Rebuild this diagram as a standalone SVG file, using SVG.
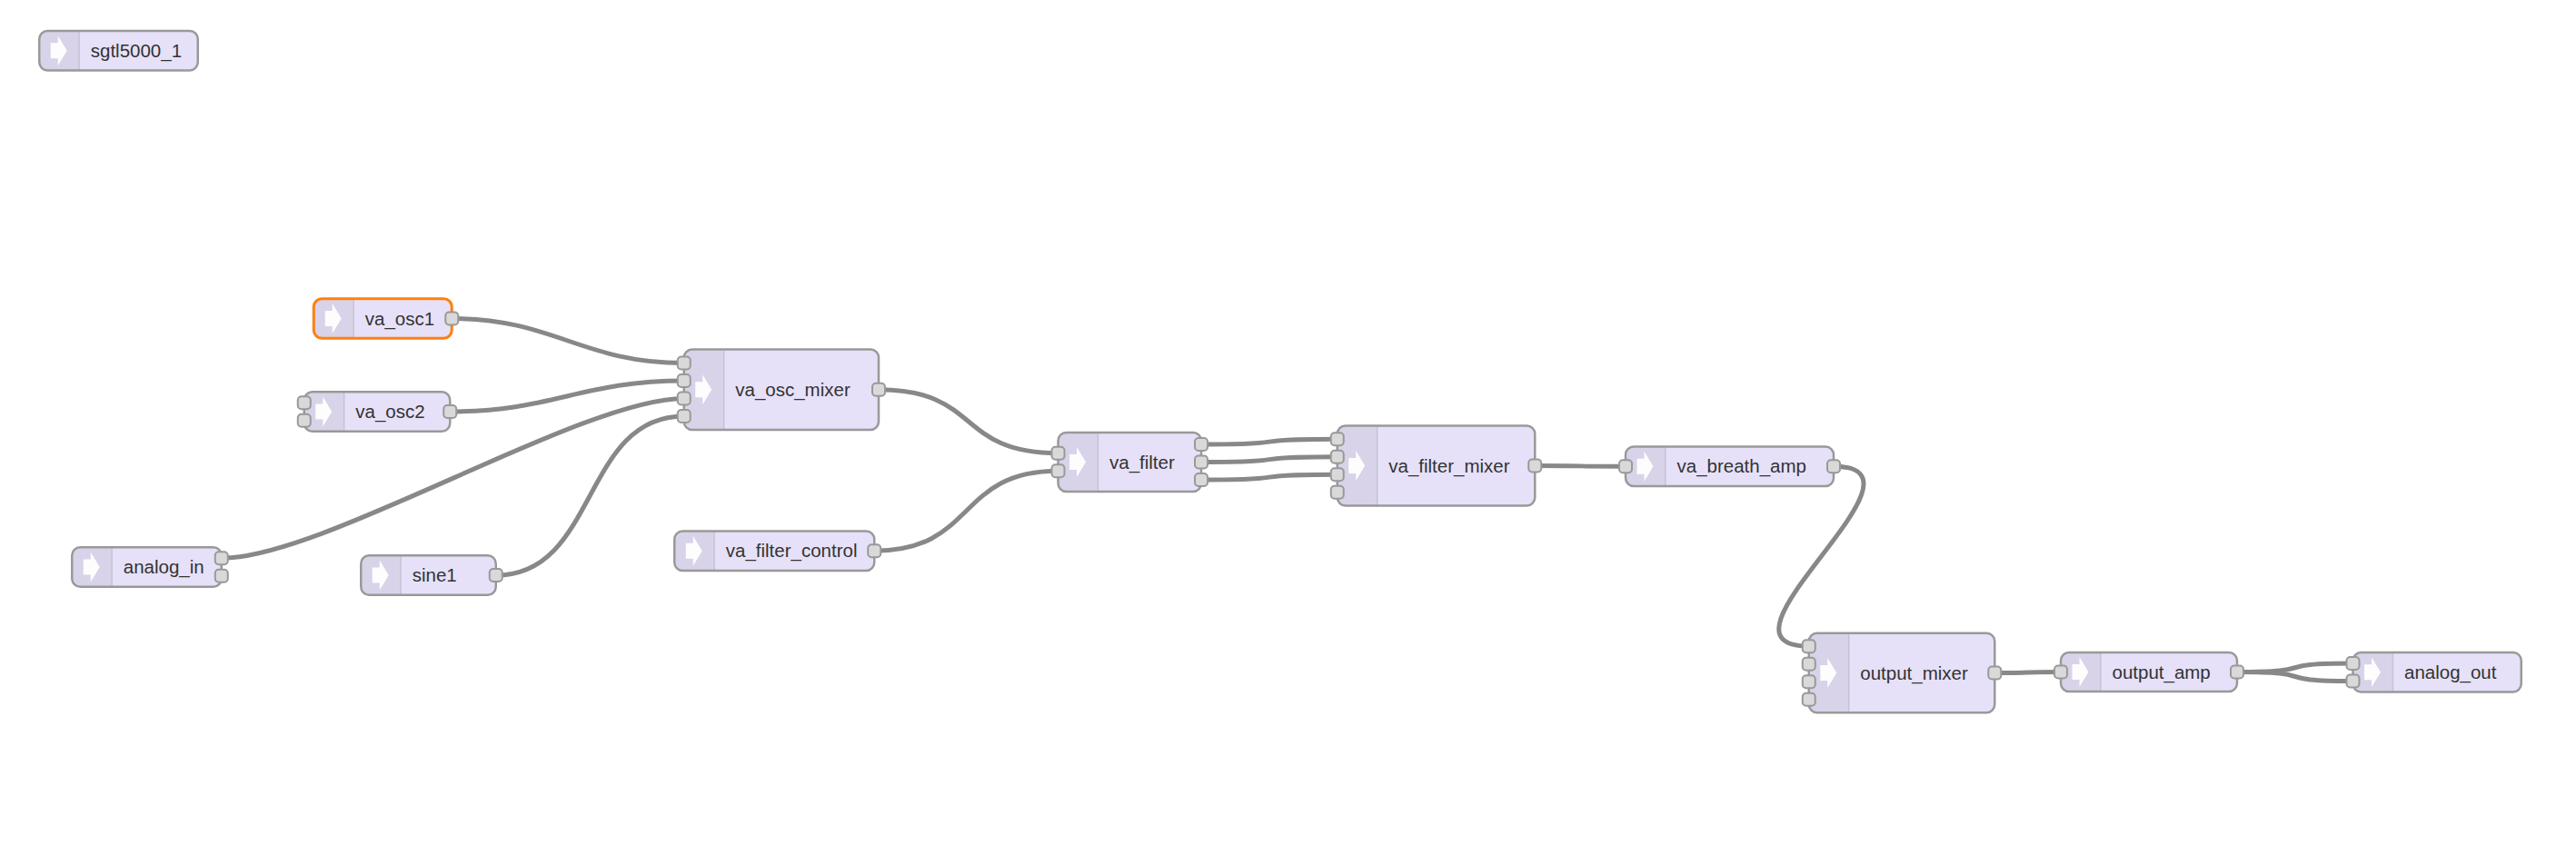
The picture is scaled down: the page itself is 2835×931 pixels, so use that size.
<svg xmlns="http://www.w3.org/2000/svg" xmlns:xlink="http://www.w3.org/1999/xlink" width="2835" height="931" viewBox="0 0 2835 931">
<style>
.bg{fill:#ffffff}
.l{fill:none;stroke:#888888;stroke-width:5}
.n{fill:#e6e1f8}
.b{fill:none;stroke:#999999;stroke-width:2.5}
.sel{stroke:#ff7f0e;stroke-width:3}
.sh{fill:#000000;fill-opacity:0.06}
.dv{stroke:#000000;stroke-opacity:0.1;stroke-width:1.5}
.ic{fill:#ffffff;fill-opacity:0.95}
.t{font-family:"Liberation Sans",Arial,Helvetica,sans-serif;font-size:20.5px;fill:#333333}
.p{fill:#d9d9d9;stroke:#999999;stroke-width:2}
</style>
<defs>
<polygon id="arrow" points="12.5,-8.5 20.5,-8.5 20.5,-16.5 30.5,0 20.5,16.5 20.5,8.5 12.5,8.5"/>
<rect id="port" x="-7" y="-7" width="14" height="14" rx="4" ry="4"/>
</defs>
<rect class="bg" x="0" y="0" width="2835" height="931"/>

<g id="connectors">
<path class="l" d="M497.25,350.5 C609.75,350.5 640.25,399.5 752.75,399.5"/>
<path class="l" d="M495.25,453 C607.75,453 640.25,419 752.75,419"/>
<path class="l" d="M243.75,614.25 C356.25,614.25 640.25,438.5 752.75,438.5"/>
<path class="l" d="M545.75,633 C658.25,633 640.25,458 752.75,458"/>
<path class="l" d="M967,428.75 C1079.5,428.75 1052,498.75 1164.5,498.75"/>
<path class="l" d="M962.25,606.25 C1074.75,606.25 1052,518.25 1164.5,518.25"/>
<path class="l" d="M1322,489 C1434,489 1359.75,483.25 1471.75,483.25"/>
<path class="l" d="M1322,508.5 C1434,508.5 1359.75,502.75 1471.75,502.75"/>
<path class="l" d="M1322,528 C1434,528 1359.75,522.25 1471.75,522.25"/>
<path class="l" d="M1689.25,512.5 C1764,512.5 1714.25,513.25 1789,513.25"/>
<path class="l" d="M2018,513.25 C2142.3,513.25 1866.45,711.25 1990.75,711.25"/>
<path class="l" d="M2195.25,740.5 C2249.85,740.5 2213.4,739.5 2268,739.5"/>
<path class="l" d="M2462,739.5 C2557.9,739.5 2493.6,730 2589.5,730"/>
<path class="l" d="M2462,739.5 C2557.9,739.5 2493.6,749.5 2589.5,749.5"/>
</g>

<g id="sgtl5000_1" transform="translate(43.25,34)">
<rect class="n" width="174.5" height="43.5" rx="9"/>
<path class="sh" d="M9,0 H44 V43.5 H9 A9,9 0 0 1 0,34.5 V9 A9,9 0 0 1 9,0 Z"/>
<line class="dv" x1="44" y1="0" x2="44" y2="43.5"/>
<use class="ic" xlink:href="#arrow" href="#arrow" transform="translate(0,21.75)"/>
<rect class="b" width="174.5" height="43.5" rx="9"/>
<text class="t" x="56.5" y="28.75">sgtl5000_1</text>
</g>

<g id="va_osc1" transform="translate(345.25,328.75)">
<rect class="n" width="152" height="43.5" rx="9"/>
<path class="sh" d="M9,0 H44 V43.5 H9 A9,9 0 0 1 0,34.5 V9 A9,9 0 0 1 9,0 Z"/>
<line class="dv" x1="44" y1="0" x2="44" y2="43.5"/>
<use class="ic" xlink:href="#arrow" href="#arrow" transform="translate(0,21.75)"/>
<rect class="b sel" width="152" height="43.5" rx="9"/>
<text class="t" x="56.5" y="28.75">va_osc1</text>
<use class="p" xlink:href="#port" href="#port" x="152" y="21.75"/>
</g>

<g id="va_osc2" transform="translate(334.75,431.25)">
<rect class="n" width="160.5" height="43.5" rx="9"/>
<path class="sh" d="M9,0 H44 V43.5 H9 A9,9 0 0 1 0,34.5 V9 A9,9 0 0 1 9,0 Z"/>
<line class="dv" x1="44" y1="0" x2="44" y2="43.5"/>
<use class="ic" xlink:href="#arrow" href="#arrow" transform="translate(0,21.75)"/>
<rect class="b" width="160.5" height="43.5" rx="9"/>
<text class="t" x="56.5" y="28.75">va_osc2</text>
<use class="p" xlink:href="#port" href="#port" x="0" y="12"/>
<use class="p" xlink:href="#port" href="#port" x="0" y="31.5"/>
<use class="p" xlink:href="#port" href="#port" x="160.5" y="21.75"/>
</g>

<g id="analog_in" transform="translate(79.25,602.25)">
<rect class="n" width="164.5" height="43.5" rx="9"/>
<path class="sh" d="M9,0 H44 V43.5 H9 A9,9 0 0 1 0,34.5 V9 A9,9 0 0 1 9,0 Z"/>
<line class="dv" x1="44" y1="0" x2="44" y2="43.5"/>
<use class="ic" xlink:href="#arrow" href="#arrow" transform="translate(0,21.75)"/>
<rect class="b" width="164.5" height="43.5" rx="9"/>
<text class="t" x="56.5" y="28.75">analog_in</text>
<use class="p" xlink:href="#port" href="#port" x="164.5" y="12"/>
<use class="p" xlink:href="#port" href="#port" x="164.5" y="31.5"/>
</g>

<g id="sine1" transform="translate(397.25,611.25)">
<rect class="n" width="148.5" height="43.5" rx="9"/>
<path class="sh" d="M9,0 H44 V43.5 H9 A9,9 0 0 1 0,34.5 V9 A9,9 0 0 1 9,0 Z"/>
<line class="dv" x1="44" y1="0" x2="44" y2="43.5"/>
<use class="ic" xlink:href="#arrow" href="#arrow" transform="translate(0,21.75)"/>
<rect class="b" width="148.5" height="43.5" rx="9"/>
<text class="t" x="56.5" y="28.75">sine1</text>
<use class="p" xlink:href="#port" href="#port" x="148.5" y="21.75"/>
</g>

<g id="va_osc_mixer" transform="translate(752.75,384.5)">
<rect class="n" width="214.25" height="88.5" rx="9"/>
<path class="sh" d="M9,0 H44 V88.5 H9 A9,9 0 0 1 0,79.5 V9 A9,9 0 0 1 9,0 Z"/>
<line class="dv" x1="44" y1="0" x2="44" y2="88.5"/>
<use class="ic" xlink:href="#arrow" href="#arrow" transform="translate(0,44.25)"/>
<rect class="b" width="214.25" height="88.5" rx="9"/>
<text class="t" x="56.5" y="51.25">va_osc_mixer</text>
<use class="p" xlink:href="#port" href="#port" x="0" y="15"/>
<use class="p" xlink:href="#port" href="#port" x="0" y="34.5"/>
<use class="p" xlink:href="#port" href="#port" x="0" y="54"/>
<use class="p" xlink:href="#port" href="#port" x="0" y="73.5"/>
<use class="p" xlink:href="#port" href="#port" x="214.25" y="44.25"/>
</g>

<g id="va_filter_control" transform="translate(742.25,584.5)">
<rect class="n" width="220" height="43.5" rx="9"/>
<path class="sh" d="M9,0 H44 V43.5 H9 A9,9 0 0 1 0,34.5 V9 A9,9 0 0 1 9,0 Z"/>
<line class="dv" x1="44" y1="0" x2="44" y2="43.5"/>
<use class="ic" xlink:href="#arrow" href="#arrow" transform="translate(0,21.75)"/>
<rect class="b" width="220" height="43.5" rx="9"/>
<text class="t" x="56.5" y="28.75">va_filter_control</text>
<use class="p" xlink:href="#port" href="#port" x="220" y="21.75"/>
</g>

<g id="va_filter" transform="translate(1164.5,476)">
<rect class="n" width="157.5" height="65" rx="9"/>
<path class="sh" d="M9,0 H44 V65 H9 A9,9 0 0 1 0,56 V9 A9,9 0 0 1 9,0 Z"/>
<line class="dv" x1="44" y1="0" x2="44" y2="65"/>
<use class="ic" xlink:href="#arrow" href="#arrow" transform="translate(0,32.5)"/>
<rect class="b" width="157.5" height="65" rx="9"/>
<text class="t" x="56.5" y="39.5">va_filter</text>
<use class="p" xlink:href="#port" href="#port" x="0" y="22.75"/>
<use class="p" xlink:href="#port" href="#port" x="0" y="42.25"/>
<use class="p" xlink:href="#port" href="#port" x="157.5" y="13"/>
<use class="p" xlink:href="#port" href="#port" x="157.5" y="32.5"/>
<use class="p" xlink:href="#port" href="#port" x="157.5" y="52"/>
</g>

<g id="va_filter_mixer" transform="translate(1471.75,468.5)">
<rect class="n" width="217.5" height="88" rx="9"/>
<path class="sh" d="M9,0 H44 V88 H9 A9,9 0 0 1 0,79 V9 A9,9 0 0 1 9,0 Z"/>
<line class="dv" x1="44" y1="0" x2="44" y2="88"/>
<use class="ic" xlink:href="#arrow" href="#arrow" transform="translate(0,44)"/>
<rect class="b" width="217.5" height="88" rx="9"/>
<text class="t" x="56.5" y="51">va_filter_mixer</text>
<use class="p" xlink:href="#port" href="#port" x="0" y="14.75"/>
<use class="p" xlink:href="#port" href="#port" x="0" y="34.25"/>
<use class="p" xlink:href="#port" href="#port" x="0" y="53.75"/>
<use class="p" xlink:href="#port" href="#port" x="0" y="73.25"/>
<use class="p" xlink:href="#port" href="#port" x="217.5" y="44"/>
</g>

<g id="va_breath_amp" transform="translate(1789,491.5)">
<rect class="n" width="229" height="43.5" rx="9"/>
<path class="sh" d="M9,0 H44 V43.5 H9 A9,9 0 0 1 0,34.5 V9 A9,9 0 0 1 9,0 Z"/>
<line class="dv" x1="44" y1="0" x2="44" y2="43.5"/>
<use class="ic" xlink:href="#arrow" href="#arrow" transform="translate(0,21.75)"/>
<rect class="b" width="229" height="43.5" rx="9"/>
<text class="t" x="56.5" y="28.75">va_breath_amp</text>
<use class="p" xlink:href="#port" href="#port" x="0" y="21.75"/>
<use class="p" xlink:href="#port" href="#port" x="229" y="21.75"/>
</g>

<g id="output_mixer" transform="translate(1990.75,696.75)">
<rect class="n" width="204.5" height="87.5" rx="9"/>
<path class="sh" d="M9,0 H44 V87.5 H9 A9,9 0 0 1 0,78.5 V9 A9,9 0 0 1 9,0 Z"/>
<line class="dv" x1="44" y1="0" x2="44" y2="87.5"/>
<use class="ic" xlink:href="#arrow" href="#arrow" transform="translate(0,43.75)"/>
<rect class="b" width="204.5" height="87.5" rx="9"/>
<text class="t" x="56.5" y="50.75">output_mixer</text>
<use class="p" xlink:href="#port" href="#port" x="0" y="14.5"/>
<use class="p" xlink:href="#port" href="#port" x="0" y="34"/>
<use class="p" xlink:href="#port" href="#port" x="0" y="53.5"/>
<use class="p" xlink:href="#port" href="#port" x="0" y="73"/>
<use class="p" xlink:href="#port" href="#port" x="204.5" y="43.75"/>
</g>

<g id="output_amp" transform="translate(2268,718)">
<rect class="n" width="194" height="43" rx="9"/>
<path class="sh" d="M9,0 H44 V43 H9 A9,9 0 0 1 0,34 V9 A9,9 0 0 1 9,0 Z"/>
<line class="dv" x1="44" y1="0" x2="44" y2="43"/>
<use class="ic" xlink:href="#arrow" href="#arrow" transform="translate(0,21.5)"/>
<rect class="b" width="194" height="43" rx="9"/>
<text class="t" x="56.5" y="28.5">output_amp</text>
<use class="p" xlink:href="#port" href="#port" x="0" y="21.5"/>
<use class="p" xlink:href="#port" href="#port" x="194" y="21.5"/>
</g>

<g id="analog_out" transform="translate(2589.5,718)">
<rect class="n" width="185.25" height="43.5" rx="9"/>
<path class="sh" d="M9,0 H44 V43.5 H9 A9,9 0 0 1 0,34.5 V9 A9,9 0 0 1 9,0 Z"/>
<line class="dv" x1="44" y1="0" x2="44" y2="43.5"/>
<use class="ic" xlink:href="#arrow" href="#arrow" transform="translate(0,21.75)"/>
<rect class="b" width="185.25" height="43.5" rx="9"/>
<text class="t" x="56.5" y="28.75">analog_out</text>
<use class="p" xlink:href="#port" href="#port" x="0" y="12"/>
<use class="p" xlink:href="#port" href="#port" x="0" y="31.5"/>
</g>
</svg>
